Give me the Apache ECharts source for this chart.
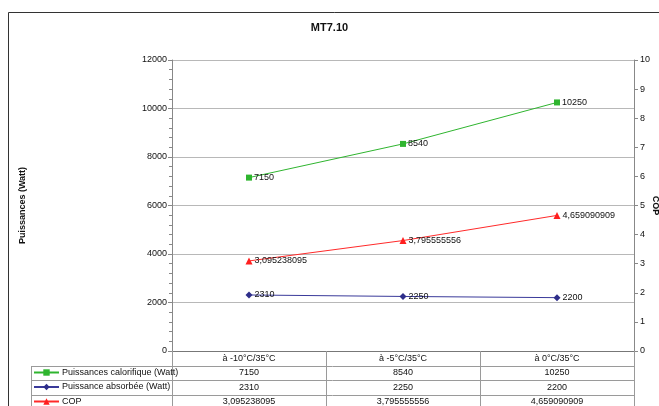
<!DOCTYPE html>
<html>
<head>
<meta charset="utf-8">
<script src="https://cdn.jsdelivr.net/npm/echarts@6/dist/echarts.min.js"></script>
<style>
html,body{margin:0;padding:0;background:#fff;}
#c{width:659px;height:406px;}
</style>
</head>
<body>
<div id="c"></div>
<script>
var title = 'MT7.10';
var categories = ['à -10°C/35°C', 'à -5°C/35°C', 'à 0°C/35°C'];
var seriesNames = ['Puissances calorifique (Watt)', 'Puissance absorbée (Watt)', 'COP'];
var calorifique = [7150, 8540, 10250];
var absorbee = [2310, 2250, 2200];
var cop = [3.095238095, 3.795555556, 4.659090909];
var leftTicks = {min: 0, max: 12000, interval: 2000};
var rightTicks = {min: 0, max: 10, interval: 1};

var FONT = 'Liberation Sans, Arial, sans-serif';
var GRID = {left: 172, right: 25, top: 60, bottom: 55, containLabel: false, outerBoundsMode: 'none'};
var W = 659, H = 406;
var rowH = 14.5;

function fmtCop(v) { return v.toFixed(9).replace('.', ','); }

var chart = echarts.init(document.getElementById('c'), null, {renderer: 'canvas'});

var gridBottomY = H - GRID.bottom;
var plotRight = W - GRID.right;
var lineColor = '#9a9a9a';
var graphics = [
  {type: 'rect', shape: {x: 8.5, y: 12.5, width: 700, height: 500}, style: {fill: 'none', stroke: '#333', lineWidth: 1}, silent: true},
  {type: 'text', x: plotRight + 21, y: (GRID.top + gridBottomY) / 2, rotation: -Math.PI / 2,
    style: {text: 'COP', fontFamily: FONT, fontSize: 9, fontWeight: 'bold', fill: '#111', align: 'center', verticalAlign: 'middle'}, silent: true}
];
for (var r = 1; r <= 3; r++) {
  var y = Math.round(gridBottomY + rowH * r) + 0.5;
  graphics.push({type: 'line', shape: {x1: 31, y1: y, x2: plotRight, y2: y}, style: {stroke: lineColor, lineWidth: 1}, silent: true});
}
graphics.push({type: 'line', shape: {x1: 31.5, y1: Math.round(gridBottomY + rowH) + 0.5, x2: 31.5, y2: H}, style: {stroke: lineColor, lineWidth: 1}, silent: true});

var legends = seriesNames.map(function (n, i) {
  return {
    orient: 'vertical', left: 33, top: gridBottomY + rowH * (i + 1) + 2.5,
    itemWidth: 25, itemHeight: 8, itemGap: 0, padding: 0,
    textStyle: {fontFamily: FONT, fontSize: 9, color: '#111', padding: [0, 0, 0, -2]},
    data: [n]
  };
});

var option = {
  backgroundColor: '#fff',
  animation: false,
  textStyle: {fontFamily: FONT},
  title: {
    text: title, left: 'center', top: 17,
    textStyle: {fontFamily: FONT, fontSize: 11, fontWeight: 'bold', color: '#111'}
  },
  legend: legends,
  grid: GRID,
  xAxis: {
    type: 'category', data: categories, boundaryGap: true,
    axisLine: {lineStyle: {color: '#777'}},
    axisTick: {show: true, interval: 0, length: H - gridBottomY, lineStyle: {color: lineColor}},
    axisLabel: {
      interval: 0, margin: 0, fontSize: 9, color: '#111', lineHeight: rowH, fontFamily: FONT,
      formatter: function (v, i) {
        return [v, calorifique[i], absorbee[i], fmtCop(cop[i])].join('\n');
      }
    }
  },
  yAxis: [
    {
      type: 'value', min: leftTicks.min, max: leftTicks.max, interval: leftTicks.interval,
      name: 'Puissances (Watt)', nameLocation: 'middle', nameGap: 145, nameRotate: 90,
      nameTextStyle: {fontFamily: FONT, fontSize: 9, fontWeight: 'bold', color: '#111'},
      axisLine: {show: true, lineStyle: {color: '#888'}},
      axisTick: {show: true, length: 4, lineStyle: {color: '#888'}},
      minorTick: {show: true, splitNumber: 5, length: 3, lineStyle: {color: '#888'}},
      axisLabel: {fontSize: 9, color: '#111', margin: 5, fontFamily: FONT,
        formatter: function (v) { return String(v); }},
      splitLine: {show: true, lineStyle: {color: '#b8b8b8', width: 1}}
    },
    {
      type: 'value', min: rightTicks.min, max: rightTicks.max, interval: rightTicks.interval,
      axisLine: {show: true, lineStyle: {color: '#888'}},
      axisTick: {show: true, length: 4, lineStyle: {color: '#888'}},
      axisLabel: {fontSize: 9, color: '#111', margin: 6, fontFamily: FONT},
      splitLine: {show: false}
    }
  ],
  series: [
    {
      name: seriesNames[0], type: 'line', data: calorifique, yAxisIndex: 0,
      symbol: 'rect', symbolSize: 6, color: '#2fb52f',
      lineStyle: {width: 1, color: '#2fb52f'},
      label: {show: true, position: 'right', distance: 2, fontSize: 9, color: '#111', fontFamily: FONT}
    },
    {
      name: seriesNames[1], type: 'line', data: absorbee, yAxisIndex: 0,
      symbol: 'diamond', symbolSize: 7, color: '#2e2e8a',
      lineStyle: {width: 1, color: '#3a3a9a'},
      label: {show: true, position: 'right', distance: 2, fontSize: 9, color: '#111', fontFamily: FONT}
    },
    {
      name: seriesNames[2], type: 'line', data: cop, yAxisIndex: 1,
      symbol: 'triangle', symbolSize: 7, color: '#ff1f1f',
      lineStyle: {width: 1, color: '#ff2a2a'},
      label: {show: true, position: 'right', distance: 2, fontSize: 9, color: '#111', fontFamily: FONT,
        formatter: function (p) { return fmtCop(p.value); }}
    }
  ],
  graphic: graphics
};
chart.setOption(option);
</script>
</body>
</html>
